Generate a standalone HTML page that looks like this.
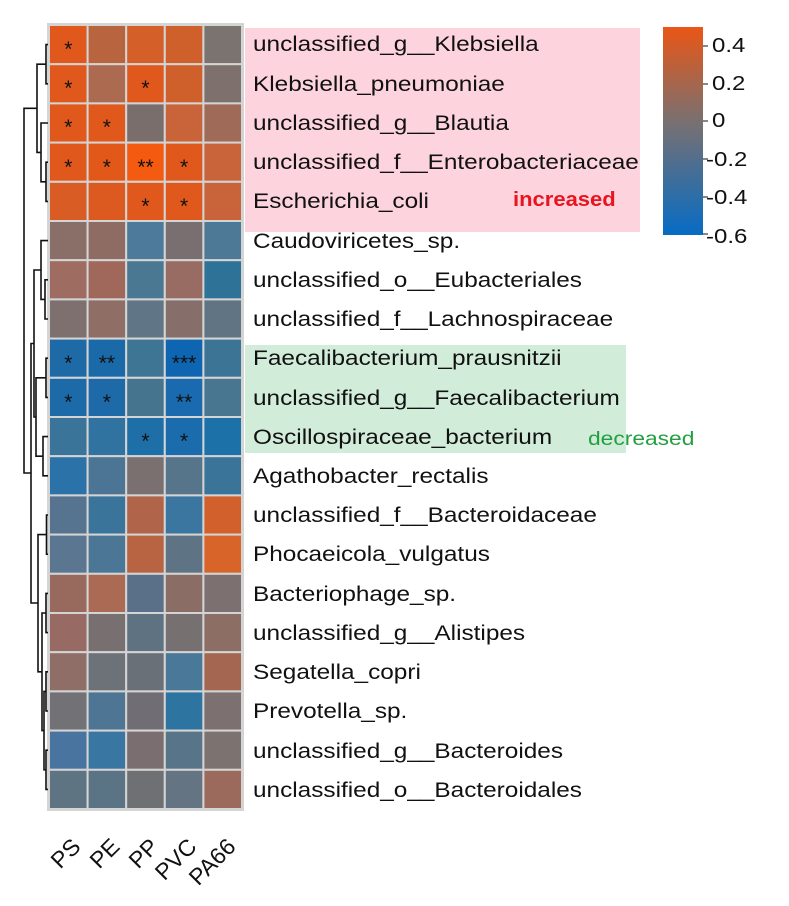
<!DOCTYPE html>
<html><head><meta charset="utf-8"><style>
body{margin:0;background:#fff;width:789px;height:906px;overflow:hidden}
svg{display:block;font-family:"Liberation Sans",Arial,sans-serif}
.l{font-size:21px;fill:#111}
.s{font-size:21px;fill:#111;text-anchor:middle}
rect.c{stroke:#d4d4d4;stroke-width:2}
</style></head><body>
<svg width="789" height="906" viewBox="0 0 789 906">
<defs><linearGradient id="cb" x1="0" y1="0" x2="0" y2="1">
<stop offset="0" stop-color="#ea5616"/><stop offset="0.45" stop-color="#7a7070"/><stop offset="1" stop-color="#066cc4"/></linearGradient></defs>
<rect x="245" y="28" width="395" height="204" fill="#fdd4de"/>
<rect x="245" y="345" width="381" height="108" fill="#d2ecda"/>
<rect x="47" y="23" width="197" height="788" fill="#d4d4d4"/>
<g id="cells">
<g transform="translate(0,25)"><rect class="c" x="49" width="38.6" height="39.2" fill="#e0581c"/><rect class="c" x="87.6" width="38.6" height="39.2" fill="#b8653f"/><rect class="c" x="126.2" width="38.6" height="39.2" fill="#d45f28"/><rect class="c" x="164.8" width="38.6" height="39.2" fill="#cf602c"/><rect class="c" x="203.4" width="38.6" height="39.2" fill="#7a7370"/></g>
<g transform="translate(0,64.2)"><rect class="c" x="49" width="38.6" height="39.2" fill="#e0581c"/><rect class="c" x="87.6" width="38.6" height="39.2" fill="#ac6a50"/><rect class="c" x="126.2" width="38.6" height="39.2" fill="#e0581c"/><rect class="c" x="164.8" width="38.6" height="39.2" fill="#cf602c"/><rect class="c" x="203.4" width="38.6" height="39.2" fill="#7e706c"/></g>
<g transform="translate(0,103.4)"><rect class="c" x="49" width="38.6" height="39.2" fill="#e0581c"/><rect class="c" x="87.6" width="38.6" height="39.2" fill="#e0581c"/><rect class="c" x="126.2" width="38.6" height="39.2" fill="#7a6e6c"/><rect class="c" x="164.8" width="38.6" height="39.2" fill="#c8633a"/><rect class="c" x="203.4" width="38.6" height="39.2" fill="#a06a58"/></g>
<g transform="translate(0,142.6)"><rect class="c" x="49" width="38.6" height="39.2" fill="#e0581c"/><rect class="c" x="87.6" width="38.6" height="39.2" fill="#e25818"/><rect class="c" x="126.2" width="38.6" height="39.2" fill="#f45a10"/><rect class="c" x="164.8" width="38.6" height="39.2" fill="#e0581c"/><rect class="c" x="203.4" width="38.6" height="39.2" fill="#c8633a"/></g>
<g transform="translate(0,181.8)"><rect class="c" x="49" width="38.6" height="39.2" fill="#d85c24"/><rect class="c" x="87.6" width="38.6" height="39.2" fill="#dc5a20"/><rect class="c" x="126.2" width="38.6" height="39.2" fill="#e0581c"/><rect class="c" x="164.8" width="38.6" height="39.2" fill="#e0581c"/><rect class="c" x="203.4" width="38.6" height="39.2" fill="#c8633a"/></g>
<g transform="translate(0,221)"><rect class="c" x="49" width="38.6" height="39.2" fill="#8a6e68"/><rect class="c" x="87.6" width="38.6" height="39.2" fill="#8e6c64"/><rect class="c" x="126.2" width="38.6" height="39.2" fill="#4d7a9a"/><rect class="c" x="164.8" width="38.6" height="39.2" fill="#7a6f70"/><rect class="c" x="203.4" width="38.6" height="39.2" fill="#4d7896"/></g>
<g transform="translate(0,260.2)"><rect class="c" x="49" width="38.6" height="39.2" fill="#9e6c60"/><rect class="c" x="87.6" width="38.6" height="39.2" fill="#a0685a"/><rect class="c" x="126.2" width="38.6" height="39.2" fill="#4a7892"/><rect class="c" x="164.8" width="38.6" height="39.2" fill="#986c62"/><rect class="c" x="203.4" width="38.6" height="39.2" fill="#2e7298"/></g>
<g transform="translate(0,299.4)"><rect class="c" x="49" width="38.6" height="39.2" fill="#7e706e"/><rect class="c" x="87.6" width="38.6" height="39.2" fill="#8f6e66"/><rect class="c" x="126.2" width="38.6" height="39.2" fill="#607686"/><rect class="c" x="164.8" width="38.6" height="39.2" fill="#866e6a"/><rect class="c" x="203.4" width="38.6" height="39.2" fill="#607484"/></g>
<g transform="translate(0,338.6)"><rect class="c" x="49" width="38.6" height="39.2" fill="#1e6aa6"/><rect class="c" x="87.6" width="38.6" height="39.2" fill="#1a6aaa"/><rect class="c" x="126.2" width="38.6" height="39.2" fill="#3e7494"/><rect class="c" x="164.8" width="38.6" height="39.2" fill="#0e66b2"/><rect class="c" x="203.4" width="38.6" height="39.2" fill="#3c7496"/></g>
<g transform="translate(0,377.8)"><rect class="c" x="49" width="38.6" height="39.2" fill="#1c6aa8"/><rect class="c" x="87.6" width="38.6" height="39.2" fill="#1e6aa8"/><rect class="c" x="126.2" width="38.6" height="39.2" fill="#44748e"/><rect class="c" x="164.8" width="38.6" height="39.2" fill="#1a6ab0"/><rect class="c" x="203.4" width="38.6" height="39.2" fill="#487690"/></g>
<g transform="translate(0,417)"><rect class="c" x="49" width="38.6" height="39.2" fill="#3a7498"/><rect class="c" x="87.6" width="38.6" height="39.2" fill="#3072a0"/><rect class="c" x="126.2" width="38.6" height="39.2" fill="#1e6ea8"/><rect class="c" x="164.8" width="38.6" height="39.2" fill="#1a6cac"/><rect class="c" x="203.4" width="38.6" height="39.2" fill="#1c72a8"/></g>
<g transform="translate(0,456.2)"><rect class="c" x="49" width="38.6" height="39.2" fill="#2a72a8"/><rect class="c" x="87.6" width="38.6" height="39.2" fill="#4c7494"/><rect class="c" x="126.2" width="38.6" height="39.2" fill="#7a7070"/><rect class="c" x="164.8" width="38.6" height="39.2" fill="#56748a"/><rect class="c" x="203.4" width="38.6" height="39.2" fill="#3a7498"/></g>
<g transform="translate(0,495.4)"><rect class="c" x="49" width="38.6" height="39.2" fill="#567490"/><rect class="c" x="87.6" width="38.6" height="39.2" fill="#3a749a"/><rect class="c" x="126.2" width="38.6" height="39.2" fill="#b0644a"/><rect class="c" x="164.8" width="38.6" height="39.2" fill="#3a76a0"/><rect class="c" x="203.4" width="38.6" height="39.2" fill="#d2602c"/></g>
<g transform="translate(0,534.6)"><rect class="c" x="49" width="38.6" height="39.2" fill="#5a7690"/><rect class="c" x="87.6" width="38.6" height="39.2" fill="#4c7696"/><rect class="c" x="126.2" width="38.6" height="39.2" fill="#b86442"/><rect class="c" x="164.8" width="38.6" height="39.2" fill="#5e7484"/><rect class="c" x="203.4" width="38.6" height="39.2" fill="#d8642a"/></g>
<g transform="translate(0,573.8)"><rect class="c" x="49" width="38.6" height="39.2" fill="#986a5e"/><rect class="c" x="87.6" width="38.6" height="39.2" fill="#aa6a54"/><rect class="c" x="126.2" width="38.6" height="39.2" fill="#5a7088"/><rect class="c" x="164.8" width="38.6" height="39.2" fill="#8a6e66"/><rect class="c" x="203.4" width="38.6" height="39.2" fill="#7c7070"/></g>
<g transform="translate(0,613)"><rect class="c" x="49" width="38.6" height="39.2" fill="#986a64"/><rect class="c" x="87.6" width="38.6" height="39.2" fill="#787070"/><rect class="c" x="126.2" width="38.6" height="39.2" fill="#5e7282"/><rect class="c" x="164.8" width="38.6" height="39.2" fill="#767070"/><rect class="c" x="203.4" width="38.6" height="39.2" fill="#8c6e64"/></g>
<g transform="translate(0,652.2)"><rect class="c" x="49" width="38.6" height="39.2" fill="#8e6e66"/><rect class="c" x="87.6" width="38.6" height="39.2" fill="#6c7278"/><rect class="c" x="126.2" width="38.6" height="39.2" fill="#6a7078"/><rect class="c" x="164.8" width="38.6" height="39.2" fill="#4a7898"/><rect class="c" x="203.4" width="38.6" height="39.2" fill="#a46650"/></g>
<g transform="translate(0,691.4)"><rect class="c" x="49" width="38.6" height="39.2" fill="#727276"/><rect class="c" x="87.6" width="38.6" height="39.2" fill="#4e7694"/><rect class="c" x="126.2" width="38.6" height="39.2" fill="#706e74"/><rect class="c" x="164.8" width="38.6" height="39.2" fill="#2e74a0"/><rect class="c" x="203.4" width="38.6" height="39.2" fill="#7c7070"/></g>
<g transform="translate(0,730.6)"><rect class="c" x="49" width="38.6" height="39.2" fill="#4a74a0"/><rect class="c" x="87.6" width="38.6" height="39.2" fill="#3a76a2"/><rect class="c" x="126.2" width="38.6" height="39.2" fill="#7a6e70"/><rect class="c" x="164.8" width="38.6" height="39.2" fill="#587488"/><rect class="c" x="203.4" width="38.6" height="39.2" fill="#7c7270"/></g>
<g transform="translate(0,769.8)"><rect class="c" x="49" width="38.6" height="39.2" fill="#5e7482"/><rect class="c" x="87.6" width="38.6" height="39.2" fill="#5a7486"/><rect class="c" x="126.2" width="38.6" height="39.2" fill="#6e7074"/><rect class="c" x="164.8" width="38.6" height="39.2" fill="#647482"/><rect class="c" x="203.4" width="38.6" height="39.2" fill="#9c6a5c"/></g>
</g>
<g class="stars">
<text class="s" x="68.3" y="56">*</text>
<text class="s" x="68.3" y="95">*</text><text class="s" x="145.5" y="95">*</text>
<text class="s" x="68.3" y="134">*</text><text class="s" x="106.9" y="134">*</text>
<text class="s" x="68.3" y="174">*</text><text class="s" x="106.9" y="174">*</text><text class="s" x="145.5" y="174">**</text><text class="s" x="184.1" y="174">*</text>
<text class="s" x="145.5" y="213">*</text><text class="s" x="184.1" y="213">*</text>
<text class="s" x="68.3" y="370">*</text><text class="s" x="106.9" y="370">**</text><text class="s" x="184.1" y="370">***</text>
<text class="s" x="68.3" y="409">*</text><text class="s" x="106.9" y="409">*</text><text class="s" x="184.1" y="409">**</text>
<text class="s" x="145.5" y="448">*</text><text class="s" x="184.1" y="448">*</text>
</g>
<path fill="none" stroke="#111" stroke-width="1.6" d="M48 44.6H46V83.8H48 M48 162.2H46V201.4H48 M48 123H41V181.8H46 M46 64.2H37V152.4H41 M48 279.8H45V319H48 M48 240.6H41V299.4H45 M48 358.2H46V397.4H48 M48 436.6H43V475.8H48 M46 377.8H36V456.2H43 M41 270H34V417H36 M48 515H46.5V554.2H48 M48 593.4H46V632.6H48 M48 671.8H46V711H48 M48 750.2H46V789.4H48 M46 691.4H44V769.8H46 M46 613H42V730.6H44 M46.5 534.6H38V671.8H42 M34 343.5H31V603H38 M37 108.3H24V473H31"/>
<g class="l" transform="translate(253,0) scale(1.16,1)">
<text x="0" y="51">unclassified_g__Klebsiella</text>
<text x="0" y="91">Klebsiella_pneumoniae</text>
<text x="0" y="130">unclassified_g__Blautia</text>
<text x="0" y="169">unclassified_f__Enterobacteriaceae</text>
<text x="0" y="208">Escherichia_coli</text>
<text x="0" y="248">Caudoviricetes_sp.</text>
<text x="0" y="287">unclassified_o__Eubacteriales</text>
<text x="0" y="326">unclassified_f__Lachnospiraceae</text>
<text x="0" y="365">Faecalibacterium_prausnitzii</text>
<text x="0" y="405">unclassified_g__Faecalibacterium</text>
<text x="0" y="444">Oscillospiraceae_bacterium</text>
<text x="0" y="483">Agathobacter_rectalis</text>
<text x="0" y="522">unclassified_f__Bacteroidaceae</text>
<text x="0" y="561">Phocaeicola_vulgatus</text>
<text x="0" y="601">Bacteriophage_sp.</text>
<text x="0" y="640">unclassified_g__Alistipes</text>
<text x="0" y="679">Segatella_copri</text>
<text x="0" y="718">Prevotella_sp.</text>
<text x="0" y="758">unclassified_g__Bacteroides</text>
<text x="0" y="797">unclassified_o__Bacteroidales</text>
</g>
<text transform="translate(513,206) scale(1.1,1)" font-size="20" font-weight="bold" fill="#e8141e">increased</text>
<text transform="translate(588,445) scale(1.2,1)" font-size="19" fill="#22a040">decreased</text>
<rect x="663" y="27" width="40" height="208" fill="url(#cb)"/>
<g font-size="20" fill="#111">
<line x1="703" y1="46" x2="708" y2="46" stroke="#111"/><text transform="translate(712,52) scale(1.2,1)">0.4</text>
<line x1="703" y1="84" x2="708" y2="84" stroke="#111"/><text transform="translate(712,90) scale(1.2,1)">0.2</text>
<line x1="703" y1="121" x2="708" y2="121" stroke="#111"/><text transform="translate(712,127) scale(1.2,1)">0</text>
<line x1="703" y1="159" x2="708" y2="159" stroke="#111"/><text transform="translate(706,166) scale(1.2,1)">-0.2</text>
<line x1="703" y1="197" x2="708" y2="197" stroke="#111"/><text transform="translate(706,204) scale(1.2,1)">-0.4</text>
<line x1="703" y1="234" x2="708" y2="234" stroke="#111"/><text transform="translate(706,243) scale(1.2,1)">-0.6</text>
</g>
<g font-size="23" fill="#111" text-anchor="end">
<text transform="translate(82,848) rotate(-45)">PS</text>
<text transform="translate(121,848) rotate(-45)">PE</text>
<text transform="translate(160,848) rotate(-45)">PP</text>
<text transform="translate(198,848) rotate(-45)">PVC</text>
<text transform="translate(237,848) rotate(-45)">PA66</text>
</g>
</svg>
</body></html>
